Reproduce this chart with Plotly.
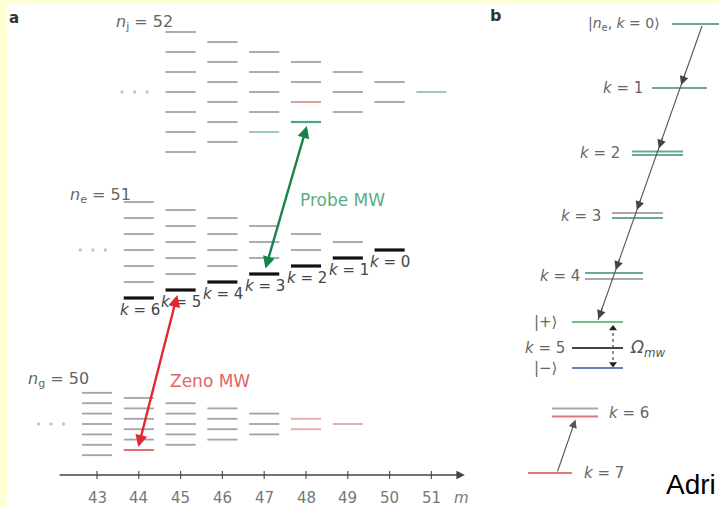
import plotly.graph_objects as go

W, H = 719, 507

# ---------------- data ----------------
n_values = [50, 51, 52]                 # n_g, n_e, n_j manifolds
n_subscripts = ["g", "e", "j"]
m_start = [43, 44, 45]                  # first m column drawn in each manifold
m_ticks = [43, 44, 45, 46, 47, 48, 49, 50, 51]
k_ladder = [0, 1, 2, 3, 4, 5, 6]        # circular ladder of n_e : k = n_e - 1 - m
zeno_pair = [(50, 44), (51, 45)]        # (n, m) of the Zeno MW transition (lowest Stark levels)
probe_pair = [(51, 47), (52, 48)]       # (n, m) of the probe MW transition

# panel b ladder (energies in arbitrary units)
b_names = ["k0", "k1", "k2", "k3", "k4", "plus", "k5", "minus", "k6", "k7"]
b_energy = [[48.3], [41.9], [35.55, 35.2], [29.4, 28.9], [23.4, 22.8],
            [18.5], [15.9], [13.9], [9.85, 9.05], [3.4]]
b_text = ["|<i>n</i><sub>e</sub>, <i>k</i> = 0⟩", "<i>k</i> = 1", "<i>k</i> = 2",
          "<i>k</i> = 3", "<i>k</i> = 4", "|+⟩", "<i>k</i> = 5", "|−⟩",
          "<i>k</i> = 6", "<i>k</i> = 7"]

# ---------------- style / geometry ----------------
FONT = "DejaVu Sans"
PX_PER_M, M43_PX = 41.8, 97.0
XR = [43 - M43_PX / PX_PER_M, 43 + (W - M43_PX) / PX_PER_M]
YR = [0, H / 10]
CENTER = {50: 8.3, 51: 25.7, 52: 41.5}
HALF = {50: 0.52, 51: 0.80, 52: 1.00}
HW = 0.36
LABEL_DY = {50: 1.3, 51: 0.7, 52: 1.0}

STY = {
    "gray": ("#a3a3a3", 1.8),
    "pink": ("#e6b0b0", 2.0),
    "lightteal": ("#9cccb8", 2.0),
    "pinkred": ("#e3a0a0", 2.0),
    "red": ("#e07070", 2.0),
    "green": ("#4fa57c", 2.2),
    "black": ("#111111", 3.2),
}
BCOL = {"teal": "#6aa898", "gray": "#a8a8a8", "green": "#6fbf8f", "dark": "#444444",
        "blue": "#6b7fb5", "red": "#e07a7a"}
b_colors = [["teal"], ["teal"], ["teal", "teal"], ["gray", "teal"], ["teal", "gray"],
            ["green"], ["dark"], ["blue"], ["gray", "red"], ["red"]]
b_center_px = [697.5, 679.5, 657.5, 637.5, 614.0, 597.5, 597.5, 597.5, 575.0, 550.0]
b_half_px = [25.5, 27.5, 25.5, 25.5, 29.0, 25.5, 25.5, 25.5, 23.0, 22.0]


def stark_levels(n, m):
    qmax = n - m - 1
    return [(q, CENTER[n] + HALF[n] * q) for q in range(-qmax, qmax + 1, 2)]


def lowest(n, m):
    return CENTER[n] - HALF[n] * (n - m - 1)


def level_style(n, m, q):
    low = q == -(n - m - 1)
    if n == 51 and low:
        return "black"
    if n == 52:
        if m == 48 and q == -3:
            return "green"
        if m == 48 and q == -1:
            return "pinkred"
        if (m == 47 and low) or m == 51:
            return "lightteal"
    if n == 50:
        if m == 44 and low:
            return "red"
        if m >= 48:
            return "pink"
    return "gray"


fig = go.Figure()

# ---- panel a : Stark manifolds ----
groups = {k: ([], []) for k in STY}
for n, m0 in zip(n_values, m_start):
    for m in range(m0, n):
        for q, e in stark_levels(n, m):
            xs, ys = groups[level_style(n, m, q)]
            xs += [m - HW, m + HW, None]
            ys += [e, e, None]
for key in ["gray", "pink", "lightteal", "pinkred", "red", "green", "black"]:
    xs, ys = groups[key]
    col, wid = STY[key]
    fig.add_trace(go.Scatter(x=xs, y=ys, mode="lines", line=dict(color=col, width=wid),
                             hoverinfo="skip", showlegend=False))

# "..." dots
dx, dy = [], []
for n, m0 in zip(n_values, m_start):
    for off in (-0.3, 0.0, 0.3):
        dx.append(m0 - 1.1 + off)
        dy.append(CENTER[n])
fig.add_trace(go.Scatter(x=dx, y=dy, mode="markers", marker=dict(color="#c4c4c4", size=3.5),
                         hoverinfo="skip", showlegend=False))

ann = []
# manifold labels
for n, sub, m0 in zip(n_values, n_subscripts, m_start):
    top = CENTER[n] + HALF[n] * (n - m0 - 1)
    ann.append(dict(x=m0 - HW + 0.22, y=top + LABEL_DY[n], xref="x", yref="y",
                    text=f"<i>n</i><sub>{sub}</sub> = {n}", showarrow=False,
                    xanchor="right", yanchor="middle",
                    font=dict(family=FONT, size=16, color="#666")))
# k labels
for k in k_ladder:
    m = 51 - 1 - k
    ann.append(dict(x=m + 0.02, y=lowest(51, m) - 1.2, xref="x", yref="y",
                    text=f"<i>k</i> = {k}", showarrow=False, xanchor="center", yanchor="middle",
                    font=dict(family=FONT, size=15, color="#444")))

# MW arrows
(zn0, zm0), (zn1, zm1) = zeno_pair
ann.append(dict(x=zm1 - 0.08, y=lowest(zn1, zm1) - 0.5, ax=zm0 - 0.02, ay=lowest(zn0, zm0) + 0.15,
                xref="x", yref="y", axref="x", ayref="y", text="", showarrow=True,
                arrowhead=2, arrowside="end+start", arrowsize=1.0, arrowwidth=2.4,
                arrowcolor="#e3262f"))
(pn0, pm0), (pn1, pm1) = probe_pair
ann.append(dict(x=pm1 + 0.02, y=lowest(pn1, pm1) - 0.4, ax=pm0 + 0.02, ay=lowest(pn0, pm0) + 0.4,
                xref="x", yref="y", axref="x", ayref="y", text="", showarrow=True,
                arrowhead=2, arrowside="end+start", arrowsize=1.0, arrowwidth=2.4,
                arrowcolor="#17834a"))
ann.append(dict(x=48.87, y=30.7, xref="x", yref="y", text="Probe MW", showarrow=False,
                font=dict(family=FONT, size=17, color="#5aae82")))
ann.append(dict(x=45.70, y=12.6, xref="x", yref="y", text="Zeno MW", showarrow=False,
                font=dict(family=FONT, size=17, color="#e06666")))

# m axis
AX_Y = 3.2
ann.append(dict(x=51.8, y=AX_Y, ax=42.07, ay=AX_Y, xref="x", yref="y", axref="x", ayref="y",
                text="", showarrow=True, arrowhead=2, arrowsize=1.3, arrowwidth=1.3,
                arrowcolor="#444"))
tx, ty = [], []
for m in m_ticks:
    tx += [m, m, None]
    ty += [AX_Y - 0.4, AX_Y + 0.4, None]
fig.add_trace(go.Scatter(x=tx, y=ty, mode="lines", line=dict(color="#555", width=1.2),
                         hoverinfo="skip", showlegend=False))
TICK_Y = 0.95
for m in m_ticks:
    ann.append(dict(x=m, y=TICK_Y, xref="x", yref="y", text=str(m), showarrow=False,
                    xanchor="center", yanchor="middle",
                    font=dict(family=FONT, size=15, color="#777")))
ann.append(dict(x=51.71, y=TICK_Y, xref="x", yref="y", text="<i>m</i>", showarrow=False,
                xanchor="center", yanchor="middle",
                font=dict(family=FONT, size=15, color="#777")))

# ---- panel b : ladder ----
bgroups = {}
for i, name in enumerate(b_names):
    for e, c in zip(b_energy[i], b_colors[i]):
        xs, ys = bgroups.setdefault(c, ([], []))
        xs += [b_center_px[i] - b_half_px[i], b_center_px[i] + b_half_px[i], None]
        ys += [e, e, None]
for c, (xs, ys) in bgroups.items():
    fig.add_trace(go.Scatter(x=xs, y=ys, xaxis="x2", yaxis="y", mode="lines",
                             line=dict(color=BCOL[c], width=2.0), hoverinfo="skip",
                             showlegend=False))

# main ladder line k=0 -> |+>
top_pt = (702.0, 48.1)
bot_pt = (598.0, b_energy[5][0] + 0.2)


def ladder_x(e):
    return top_pt[0] + (bot_pt[0] - top_pt[0]) * (top_pt[1] - e) / (top_pt[1] - bot_pt[1])


fig.add_trace(go.Scatter(x=[top_pt[0], bot_pt[0]], y=[top_pt[1], bot_pt[1]], xaxis="x2", yaxis="y",
                         mode="lines", line=dict(color="#555", width=1.1), hoverinfo="skip",
                         showlegend=False))
for i in [1, 2, 3, 4, 5]:
    e = b_energy[i][0] + 0.3
    ann.append(dict(x=ladder_x(e), y=e, ax=ladder_x(e + 1.2), ay=e + 1.2,
                    xref="x2", yref="y", axref="x2", ayref="y", text="", showarrow=True,
                    arrowhead=2, arrowsize=1.6, arrowwidth=1.1, arrowcolor="#444"))
# k=7 -> k=6
ann.append(dict(x=575.5, y=b_energy[8][1] - 0.3, ax=557.0, ay=b_energy[9][0],
                xref="x2", yref="y", axref="x2", ayref="y", text="", showarrow=True,
                arrowhead=2, arrowsize=1.5, arrowwidth=1.1, arrowcolor="#555"))
# Omega dotted arrow
OX = 613.0
fig.add_trace(go.Scatter(x=[OX, OX], y=[b_energy[5][0] - 0.5, b_energy[7][0] + 0.3], xaxis="x2",
                         yaxis="y", mode="lines", line=dict(color="#333", width=1.1, dash="dot"),
                         hoverinfo="skip", showlegend=False))
fig.add_trace(go.Scatter(x=[OX, OX], y=[b_energy[5][0] - 0.65, b_energy[7][0] + 0.4], xaxis="x2",
                         yaxis="y", mode="markers",
                         marker=dict(symbol=["triangle-up", "triangle-down"], size=7, color="#222"),
                         hoverinfo="skip", showlegend=False))

bfont = dict(family=FONT, size=15, color="#666")
b_text_pos = {  # (x px, anchor)
    "k0": (662, "right"), "k1": (645, "right"), "k2": (622, "right"), "k3": (603, "right"),
    "k4": (582, "right"), "plus": (545, "center"), "k5": (545, "center"),
    "minus": (545, "center"), "k6": (607, "left"), "k7": (582, "left"),
}
for i, name in enumerate(b_names):
    xp, anc = b_text_pos[name]
    e = sum(b_energy[i]) / len(b_energy[i])
    f = dict(bfont)
    if name == "k0":
        f["size"] = 14
    ann.append(dict(x=xp, y=e, xref="x2", yref="y", text=b_text[i], showarrow=False,
                    xanchor=anc, yanchor="middle", font=f))
ann.append(dict(x=628, y=b_energy[6][0], xref="x2", yref="y",
                text="<i>Ω</i><sub><i>mw</i></sub>", showarrow=False, xanchor="left",
                yanchor="middle", font=dict(family=FONT, size=17, color="#555")))

# panel letters and stray text
ann.append(dict(x=7, y=(H - 18) / 10, xref="x2", yref="y", text="<b>a</b>", showarrow=False,
                xanchor="left", yanchor="middle", font=dict(family=FONT, size=15, color="#333")))
ann.append(dict(x=488, y=(H - 15) / 10, xref="x2", yref="y", text="<b>b</b>", showarrow=False,
                xanchor="left", yanchor="middle", font=dict(family=FONT, size=16, color="#333")))
ann.append(dict(x=664, y=(H - 484) / 10, xref="x2", yref="y", text="Adri", showarrow=False,
                xanchor="left", yanchor="middle",
                font=dict(family="Liberation Sans", size=28, color="#000")))

fig.update_layout(
    width=W, height=H, margin=dict(l=0, r=0, t=0, b=0),
    paper_bgcolor="#FFFFD4", plot_bgcolor="rgba(0,0,0,0)",
    xaxis=dict(range=XR, visible=False, fixedrange=True),
    xaxis2=dict(range=[0, W], overlaying="x", visible=False, fixedrange=True),
    yaxis=dict(range=YR, visible=False, fixedrange=True),
    annotations=ann,
    shapes=[dict(type="rect", xref="paper", yref="paper", x0=7 / W, x1=1, y0=0, y1=1 - 4 / H,
                 fillcolor="white", line=dict(width=0), layer="below")],
    showlegend=False,
)

fig.write_html("out.html")
